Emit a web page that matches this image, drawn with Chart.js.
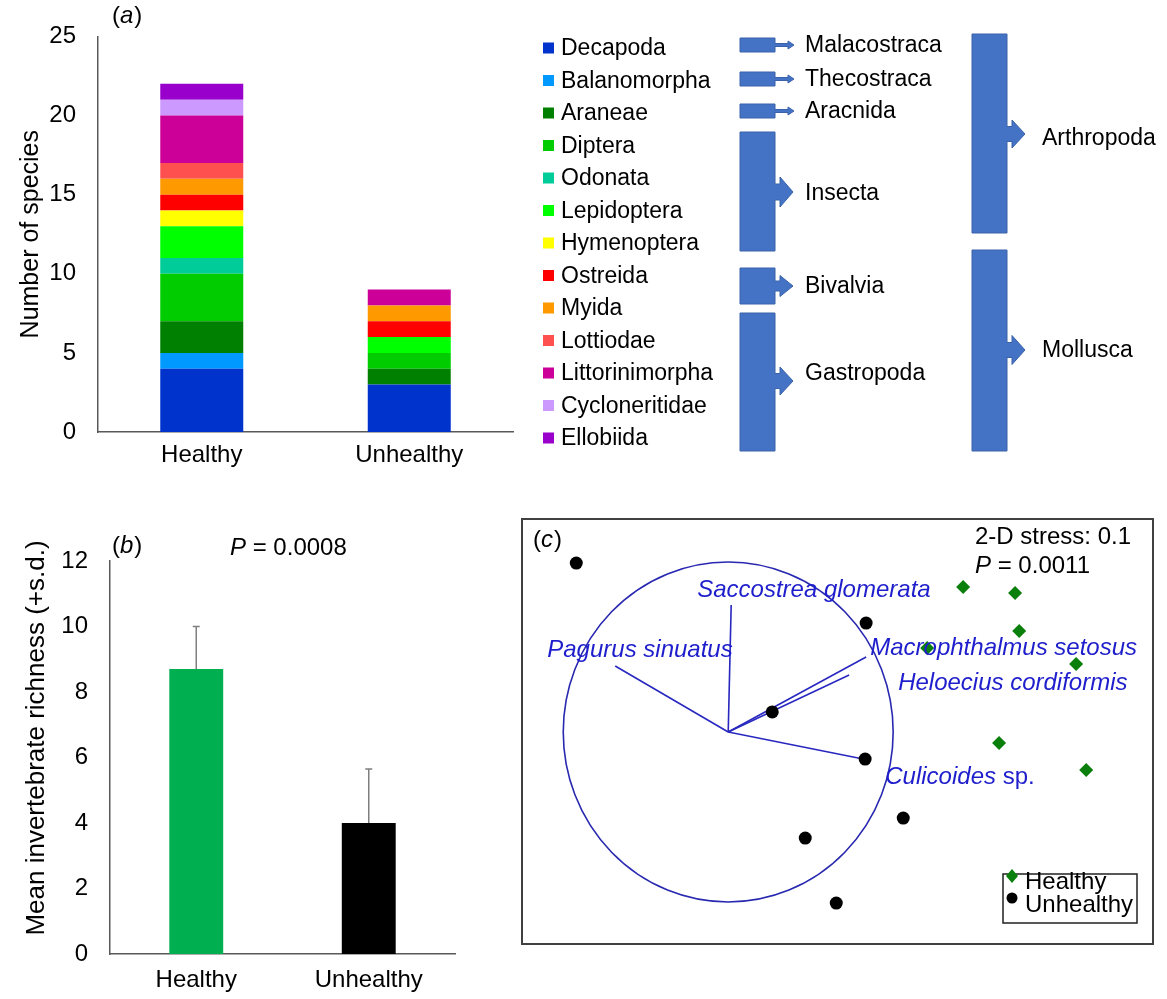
<!DOCTYPE html>
<html>
<head>
<meta charset="utf-8">
<script src="https://cdn.jsdelivr.net/npm/chart.js@4.4.1/dist/chart.umd.min.js"></script>
<style>
  body { margin: 0; background: #fff; width: 1167px; height: 999px; position: relative; overflow: hidden; }
  canvas { position: absolute; }
  #chart-a { left: 0; top: 0; }
  #chart-b { left: 0; top: 500px; }
  #chart-c { left: 510px; top: 505px; }
</style>
</head>
<body>
<canvas id="chart-a" width="1167" height="490"></canvas>
<canvas id="chart-b" width="500" height="499"></canvas>
<canvas id="chart-c" width="657" height="455"></canvas>
<script>
// ===== DATA =====
// (a) species per order
const groups = ['Healthy', 'Unhealthy'];
const orders = ['Decapoda', 'Balanomorpha', 'Araneae', 'Diptera', 'Odonata', 'Lepidoptera', 'Hymenoptera',
  'Ostreida', 'Myida', 'Lottiodae', 'Littorinimorpha', 'Cycloneritidae', 'Ellobiida'];
const orderColors = ['#0033CC', '#0099FF', '#008000', '#00CC00', '#00CC99', '#00FF00', '#FFFF00',
  '#FF0000', '#FF9900', '#FF5050', '#CC0099', '#CC99FF', '#9900CC'];
const healthyCounts = [4, 1, 2, 3, 1, 2, 1, 1, 1, 1, 3, 1, 1];
const unhealthyCounts = [3, 0, 1, 1, 0, 1, 0, 1, 1, 0, 1, 0, 0];
const speciesTicks = [0, 5, 10, 15, 20, 25];
const classNames = ['Malacostraca', 'Thecostraca', 'Aracnida', 'Insecta', 'Bivalvia', 'Gastropoda'];
const phylumNames = ['Arthropoda', 'Mollusca'];

// (b) mean richness
const meanRichness = [8.7, 4.0];
const richnessSD = [1.3, 1.65];
const richnessTicks = [0, 2, 4, 6, 8, 10, 12];

// (c) nMDS ordination
const healthyNX = [1.424, 1.739, 1.764, 1.206, 2.109, 1.642, 2.170];
const healthyNY = [0.853, 0.818, 0.594, 0.494, 0.400, -0.065, -0.224];
const unhealthyNX = [-0.921, 0.836, 0.267, 0.830, 1.061, 0.467, 0.655];
const unhealthyNY = [0.994, 0.641, 0.118, -0.159, -0.506, -0.624, -1.006];
const vectorNames = ['Pagurus sinuatus', 'Saccostrea glomerata', 'Macrophthalmus setosus', 'Heloecius cordiformis', 'Culicoides sp.'];
const vectorX = [-0.685, 0.018, 0.836, 0.733, 0.818];
const vectorY = [0.388, 0.747, 0.441, 0.335, -0.159];

const FONT = '"Liberation Sans", Arial, sans-serif';
const AXIS = '#595959';

// draws "(a)" style tags with italic letter
function panelTag(ctx, x, y, letter) {
  ctx.save();
  ctx.fillStyle = '#000';
  ctx.textBaseline = 'middle';
  ctx.textAlign = 'left';
  ctx.font = '24px ' + FONT;
  ctx.fillText('(', x, y);
  let w = ctx.measureText('(').width;
  ctx.font = 'italic 24px ' + FONT;
  ctx.fillText(letter, x + w, y);
  w += ctx.measureText(letter).width + 1;
  ctx.font = '24px ' + FONT;
  ctx.fillText(')', x + w, y);
  ctx.restore();
}

function pText(ctx, x, y, rest) {
  ctx.save();
  ctx.fillStyle = '#000';
  ctx.textBaseline = 'middle';
  ctx.textAlign = 'left';
  ctx.font = 'italic 24px ' + FONT;
  ctx.fillText('P', x, y);
  const w = ctx.measureText('P').width;
  ctx.font = '24px ' + FONT;
  ctx.fillText(rest, x + w, y);
  ctx.restore();
}

function blockArrow(ctx, x0, x1, y0, y1, ay, stemH, stemL, headH, headL) {
  ctx.beginPath();
  ctx.moveTo(x0, y0); ctx.lineTo(x1, y0);
  ctx.lineTo(x1, ay - stemH / 2); ctx.lineTo(x1 + stemL, ay - stemH / 2);
  ctx.lineTo(x1 + stemL, ay - headH / 2); ctx.lineTo(x1 + stemL + headL, ay);
  ctx.lineTo(x1 + stemL, ay + headH / 2); ctx.lineTo(x1 + stemL, ay + stemH / 2);
  ctx.lineTo(x1, ay + stemH / 2); ctx.lineTo(x1, y1); ctx.lineTo(x0, y1);
  ctx.closePath();
  ctx.fill();
  ctx.stroke();
}

// ===== PANEL A =====
const legendAndTaxa = {
  id: 'legendAndTaxa',
  afterDraw(chart) {
    const ctx = chart.ctx;
    panelTag(ctx, 112, 16, 'a');

    // order legend
    ctx.save();
    ctx.font = '23px ' + FONT;
    ctx.textBaseline = 'middle';
    ctx.fillStyle = '#000';
    orders.forEach((name, i) => {
      const y = 48 + i * 32.5;
      ctx.fillStyle = orderColors[i];
      ctx.fillRect(543, y - 5.5, 11, 11);
      ctx.fillStyle = '#000';
      ctx.fillText(name, 561, y + 1);
    });

    // class / phylum block arrows
    ctx.fillStyle = '#4472C4';
    ctx.strokeStyle = '#3A62AA';
    ctx.lineWidth = 1;
    const cls = [
      [38, 52, 45, true], [72, 86, 79, true], [104, 118, 111, true],
      [132, 251, 192, false, 30, 16], [268, 304, 286, false, 21, 10], [313, 451, 381, false, 28, 15]
    ];
    const clsTextY = [45, 79, 111, 193, 286, 373];
    cls.forEach((c, i) => {
      if (c[3]) blockArrow(ctx, 740, 775, c[0], c[1], c[2], 3, 13, 8, 6);
      else blockArrow(ctx, 740, 775, c[0], c[1], c[2], c[5], 5, c[4], 13);
    });
    blockArrow(ctx, 972, 1007, 34, 233, 134, 15, 5, 28, 13);
    blockArrow(ctx, 972, 1007, 250, 451, 350, 15, 5, 29, 13);

    ctx.fillStyle = '#000';
    ctx.font = '23px ' + FONT;
    classNames.forEach((n, i) => ctx.fillText(n, 805, clsTextY[i] + 1));
    ctx.fillText(phylumNames[0], 1042, 139);
    ctx.fillText(phylumNames[1], 1042, 351);
    ctx.restore();
  }
};

new Chart(document.getElementById('chart-a'), {
  type: 'bar',
  data: {
    labels: groups,
    datasets: orders.map((name, i) => ({
      label: name,
      data: [healthyCounts[i], unhealthyCounts[i]],
      backgroundColor: orderColors[i],
      borderWidth: 0,
      barPercentage: 0.8,
      categoryPercentage: 0.5
    }))
  },
  options: {
    responsive: false,
    animation: false,
    layout: { padding: { top: 15, right: 654, left: 0, bottom: 0 } },
    plugins: { legend: { display: false }, tooltip: { enabled: false } },
    scales: {
      x: {
        stacked: true,
        grid: { display: false, drawTicks: false },
        border: { display: true, color: AXIS, width: 1.5 },
        ticks: { color: '#000', font: { family: FONT, size: 24 }, padding: 9 },
        afterFit: s => { s.height = 58; }
      },
      y: {
        stacked: true,
        min: 0, max: 25,
        grid: { display: false, drawTicks: false },
        border: { display: true, color: AXIS, width: 1.5 },
        ticks: { color: '#000', font: { family: FONT, size: 24 }, padding: 22 },
        afterBuildTicks: s => { s.ticks = speciesTicks.map(v => ({ value: v })); },
        title: { display: true, text: 'Number of species', color: '#000', font: { family: FONT, size: 25 }, padding: { top: 16, bottom: 0 } },
        afterFit: s => { s.width = 98; }
      }
    }
  },
  plugins: [legendAndTaxa]
});

// ===== PANEL B =====
const errorBars = {
  id: 'errorBars',
  afterDatasetsDraw(chart) {
    const ctx = chart.ctx;
    const y = chart.scales.y;
    ctx.save();
    ctx.strokeStyle = '#7F7F7F';
    ctx.lineWidth = 1.5;
    chart.getDatasetMeta(0).data.forEach((bar, i) => {
      const top = y.getPixelForValue(meanRichness[i] + richnessSD[i]);
      ctx.beginPath();
      ctx.moveTo(bar.x, bar.y);
      ctx.lineTo(bar.x, top);
      ctx.moveTo(bar.x - 3.5, top);
      ctx.lineTo(bar.x + 3.5, top);
      ctx.stroke();
    });
    ctx.restore();
  },
  afterDraw(chart) {
    const ctx = chart.ctx;
    panelTag(ctx, 112, 46, 'b');
    pText(ctx, 230, 48, ' = 0.0008');
    // y-axis title, sits a little above the plot centre as in the original
    ctx.save();
    ctx.translate(37, 238);
    ctx.rotate(-Math.PI / 2);
    ctx.fillStyle = '#000';
    ctx.font = '26px ' + FONT;
    ctx.textAlign = 'center';
    ctx.textBaseline = 'middle';
    ctx.fillText('Mean invertebrate richness (+s.d.)', 0, 0);
    ctx.restore();
  }
};

new Chart(document.getElementById('chart-b'), {
  type: 'bar',
  data: {
    labels: groups,
    datasets: [{
      data: meanRichness,
      backgroundColor: ['#00B050', '#000000'],
      borderWidth: 0,
      barPercentage: 0.625,
      categoryPercentage: 0.5
    }]
  },
  options: {
    responsive: false,
    animation: false,
    layout: { padding: { top: 61, right: 45, left: 0, bottom: 0 } },
    plugins: { legend: { display: false }, tooltip: { enabled: false } },
    scales: {
      x: {
        grid: { display: false, drawTicks: false },
        border: { display: true, color: AXIS, width: 1.5 },
        ticks: { color: '#000', font: { family: FONT, size: 24 }, padding: 12 },
        afterFit: s => { s.height = 45; }
      },
      y: {
        min: 0, max: 12,
        grid: { display: false, drawTicks: false },
        border: { display: true, color: AXIS, width: 1.5 },
        ticks: { color: '#000', font: { family: FONT, size: 24 }, padding: 22 },
        afterBuildTicks: s => { s.ticks = richnessTicks.map(v => ({ value: v })); },
        afterFit: s => { s.width = 110; }
      }
    }
  },
  plugins: [errorBars]
});

// ===== PANEL C =====
const vectorLabels = [
  { text: 'Pagurus sinuatus', x: -1.097, y: 0.482 },
  { text: 'Saccostrea glomerata', x: -0.188, y: 0.835 },
  { text: 'Macrophthalmus setosus', x: 0.861, y: 0.494 },
  { text: 'Heloecius cordiformis', x: 1.030, y: 0.288 },
  { text: 'Culicoides', tail: ' sp.', x: 0.952, y: -0.265 }
];

const ordination = {
  id: 'ordination',
  beforeDatasetsDraw(chart) {
    const { ctx, chartArea: a, scales: { x, y } } = chart;
    ctx.save();
    ctx.strokeStyle = '#404040';
    ctx.lineWidth = 2;
    ctx.strokeRect(a.left, a.top, a.right - a.left, a.bottom - a.top);
    // unit correlation circle
    const cx = x.getPixelForValue(0), cy = y.getPixelForValue(0);
    ctx.strokeStyle = '#2828B0';
    ctx.lineWidth = 1.6;
    ctx.beginPath();
    ctx.ellipse(cx, cy, Math.abs(x.getPixelForValue(1) - cx), Math.abs(y.getPixelForValue(1) - cy), 0, 0, Math.PI * 2);
    ctx.stroke();
    ctx.restore();
  },
  afterDraw(chart) {
    const { ctx, chartArea: a, scales: { x, y } } = chart;
    ctx.save();
    ctx.textBaseline = 'middle';
    ctx.textAlign = 'left';
    ctx.fillStyle = '#1E1ECC';
    vectorLabels.forEach(l => {
      const px = x.getPixelForValue(l.x), py = y.getPixelForValue(l.y);
      ctx.font = 'italic 24px ' + FONT;
      ctx.fillText(l.text, px, py);
      if (l.tail) {
        const w = ctx.measureText(l.text).width;
        ctx.font = '24px ' + FONT;
        ctx.fillText(l.tail, px + w, py);
      }
    });
    ctx.restore();

    panelTag(ctx, a.left + 11, a.top + 21, 'c');
    ctx.save();
    ctx.fillStyle = '#000';
    ctx.font = '24px ' + FONT;
    ctx.textBaseline = 'middle';
    ctx.fillText('2-D stress: 0.1', a.left + 453, a.top + 18);
    ctx.restore();
    pText(ctx, a.left + 453, a.top + 47, ' = 0.0011');

    // legend box
    const bx = a.right - 150, by = a.bottom - 70;
    ctx.save();
    ctx.strokeStyle = '#202020';
    ctx.lineWidth = 1.5;
    ctx.strokeRect(bx, by, 134, 49);
    ctx.fillStyle = '#0B7F0B';
    ctx.beginPath();
    ctx.moveTo(bx + 9, by - 5); ctx.lineTo(bx + 15, by + 2); ctx.lineTo(bx + 9, by + 9); ctx.lineTo(bx + 3, by + 2);
    ctx.closePath(); ctx.fill();
    ctx.fillStyle = '#000';
    ctx.beginPath(); ctx.arc(bx + 9, by + 24, 5.5, 0, Math.PI * 2); ctx.fill();
    ctx.font = '24px ' + FONT;
    ctx.textBaseline = 'middle';
    ctx.fillText('Healthy', bx + 22, by + 8);
    ctx.fillText('Unhealthy', bx + 22, by + 31);
    ctx.restore();
  }
};

new Chart(document.getElementById('chart-c'), {
  type: 'scatter',
  data: {
    datasets: [
      ...vectorNames.map((n, i) => ({
        label: n,
        data: [{ x: 0, y: 0 }, { x: vectorX[i], y: vectorY[i] }],
        showLine: true,
        borderColor: '#2828C0',
        borderWidth: 1.6,
        pointRadius: 0,
        order: 2
      })),
      {
        label: 'Healthy',
        data: healthyNX.map((v, i) => ({ x: v, y: healthyNY[i] })),
        pointStyle: 'rectRot', pointRadius: 7,
        backgroundColor: '#0B7F0B', borderColor: '#0B7F0B', borderWidth: 0,
        order: 1
      },
      {
        label: 'Unhealthy',
        data: unhealthyNX.map((v, i) => ({ x: v, y: unhealthyNY[i] })),
        pointStyle: 'circle', pointRadius: 6.5,
        backgroundColor: '#000', borderColor: '#000', borderWidth: 0,
        order: 1
      }
    ]
  },
  options: {
    responsive: false,
    animation: false,
    layout: { padding: { left: 12, right: 14, top: 14, bottom: 16 } },
    plugins: { legend: { display: false }, tooltip: { enabled: false } },
    scales: {
      x: { display: false, min: -1.25, max: 2.575 },
      y: { display: false, min: -1.247, max: 1.253 }
    }
  },
  plugins: [ordination]
});
</script>
</body>
</html>
